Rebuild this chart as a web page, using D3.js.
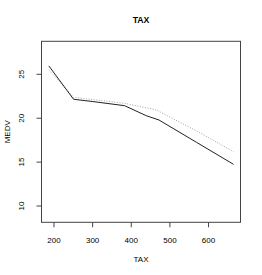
<!DOCTYPE html>
<html>
<head>
<meta charset="utf-8">
<script src="https://cdn.jsdelivr.net/npm/d3@7"></script>
<style>
  body { margin: 0; background: #fff; }
  text { font-family: "Liberation Sans", Arial, sans-serif; fill: #000; }
</style>
</head>
<body>
<div class="graph"></div>
<script>
// partial dependence of MEDV on TAX
const solidTax = [188, 252, 300, 384, 440, 473, 570, 666];
const solidMedv = [25.9, 22.1, 21.85, 21.37, 20.23, 19.74, 17.2, 14.69];
const dottedTax = [188, 252, 384, 466, 570, 666];
const dottedMedv = [25.45, 22.32, 21.64, 20.88, 18.5, 16.13];
const xTicks = [200, 300, 400, 500, 600];
const yTicks = [10, 15, 20, 25];

function displayGraph() {
  const w = 262;
  const h = 275;
  const box = { left: 41.5, right: 240.5, top: 41.3, bottom: 222.3 };

  const xScale = d3.scaleLinear()
    .domain([169, 684])
    .range([box.left, box.right]);
  const yScale = d3.scaleLinear()
    .domain([8.09, 28.7])
    .range([box.bottom, box.top]);

  const svg = d3.select('.graph')
    .append('svg')
    .attr('width', w)
    .attr('height', h);

  const line = d3.line()
    .x((d) => xScale(d[0]))
    .y((d) => yScale(d[1]));

  svg.append('path')
    .datum(dottedTax.map((t, i) => [t, dottedMedv[i]]))
    .attr('d', line)
    .attr('fill', 'none')
    .attr('stroke', '#999')
    .attr('stroke-width', 0.9)
    .attr('stroke-dasharray', '1,1.6');

  svg.append('path')
    .datum(solidTax.map((t, i) => [t, solidMedv[i]]))
    .attr('d', line)
    .attr('fill', 'none')
    .attr('stroke', '#222')
    .attr('stroke-width', 1);

  svg.append('rect')
    .attr('x', box.left)
    .attr('y', box.top)
    .attr('width', box.right - box.left)
    .attr('height', box.bottom - box.top)
    .attr('fill', 'none')
    .attr('stroke', '#444')
    .attr('stroke-width', 1);

  const xAxis = svg.append('g')
    .attr('class', 'x-axis')
    .attr('transform', `translate(0, ${box.bottom})`)
    .call(d3.axisBottom(xScale).tickValues(xTicks).tickSize(5).tickPadding(10).tickSizeOuter(0));
  xAxis.select('.domain').remove();
  xAxis.selectAll('line').attr('stroke', '#444');
  xAxis.selectAll('text').style('font-size', '8px');

  const yAxis = svg.append('g')
    .attr('class', 'y-axis')
    .attr('transform', `translate(${box.left}, 0)`)
    .call(d3.axisLeft(yScale).tickValues(yTicks).tickSize(5).tickSizeOuter(0));
  yAxis.select('.domain').remove();
  yAxis.selectAll('line').attr('stroke', '#444');
  yAxis.selectAll('text')
    .attr('x', null)
    .attr('dy', null)
    .attr('text-anchor', 'middle')
    .attr('transform', 'translate(-17.5, 0) rotate(-90)')
    .style('font-size', '8px');

  svg.append('text')
    .attr('x', (box.left + box.right) / 2)
    .attr('y', 23.3)
    .attr('text-anchor', 'middle')
    .style('font-size', '8.7px')
    .style('font-weight', 'bold')
    .text('TAX');

  svg.append('text')
    .attr('x', (box.left + box.right) / 2)
    .attr('y', 261.5)
    .attr('text-anchor', 'middle')
    .style('font-size', '8px')
    .text('TAX');

  svg.append('text')
    .attr('transform', `translate(9.5, ${(box.top + box.bottom) / 2}) rotate(-90)`)
    .attr('text-anchor', 'middle')
    .style('font-size', '8px')
    .text('MEDV');
}

displayGraph();
</script>
</body>
</html>
